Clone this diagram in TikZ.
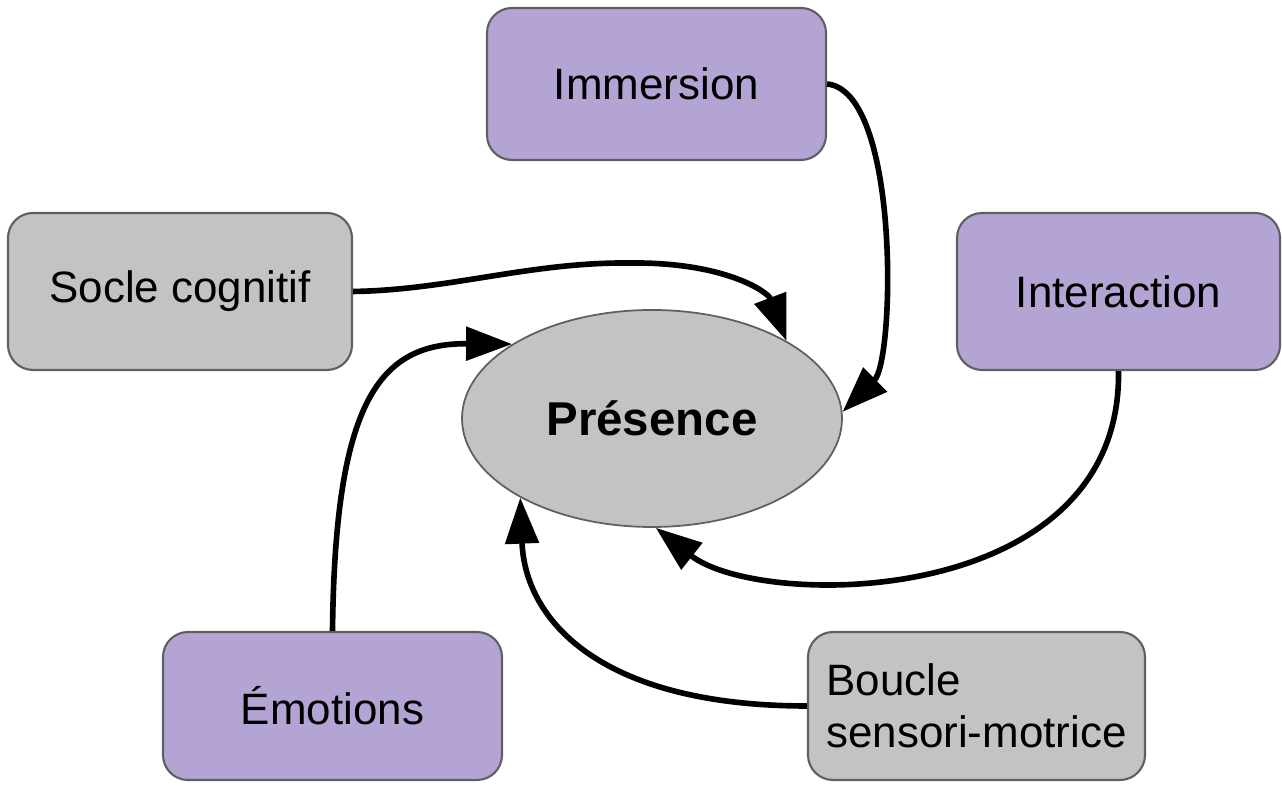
\documentclass[tikz,border=0pt]{standalone}
\usepackage{fontspec}
\setmainfont{Liberation Sans}
\usepackage{xcolor}
\usepackage{tikz}
\usetikzlibrary{arrows.meta, positioning, shapes.geometric}
\definecolor{boxgray}{RGB}{195,195,195}
\definecolor{boxpurple}{RGB}{180,164,212}
\definecolor{edgegray}{RGB}{95,95,95}

\begin{document}
\begin{tikzpicture}[
    box/.style={rectangle, rounded corners=0.25cm, draw=edgegray, line width=0.6pt, inner sep=0pt,
        font=\fontsize{12.5}{14.8}\selectfont},
    boxp/.style={box, fill=boxpurple},
    boxg/.style={box, fill=boxgray},
    pres/.style={ellipse, draw=edgegray, line width=0.5pt, fill=boxgray, inner sep=0pt,
        minimum width=3.8cm, minimum height=2.17cm, font=\fontsize{13.5}{16}\selectfont\bfseries},
    arr/.style={line width=1.6pt, -{Triangle[length=4.6mm, width=3.3mm]}}]
    \useasboundingbox (0,0) rectangle (12.82,7.86);
    \node[pres] (P) at (6.52,3.675) {Présence};
    \node[boxp, minimum width=3.39cm, minimum height=1.52cm] (imm) at (6.565,7.02) {Immersion};
    \node[boxg, minimum width=3.44cm, minimum height=1.57cm] (soc) at (1.80,4.945) {Socle cognitif};
    \node[boxp, minimum width=3.23cm, minimum height=1.57cm] (inter) at (11.185,4.945) {Interaction};
    \node[boxp, minimum width=3.39cm, minimum height=1.48cm] (emo) at (3.325,0.80) {Émotions};
    \node[boxg, minimum width=3.37cm, minimum height=1.48cm, align=left] (bou) at (9.765,0.80) {Boucle\\sensori-motrice};
    % connectors into the ellipse
    \draw[arr] (imm.east) .. controls (9.0,6.95) and (8.95,4.26) .. (P.2);
    \draw[arr] (soc.east) .. controls (4.5,4.96) and (5.3,5.24) .. (6.3,5.23)
        .. controls (7.25,5.24) and (7.68,4.94) .. (P.30);
    \draw[arr] (inter.south) .. controls (11.22,1.76) and (7.6,1.76) .. (P.-88);
    \draw[arr] (emo.north) .. controls (3.35,3.86) and (3.8,4.43) .. (P.152);
    \draw[arr] (bou.west) .. controls (6.0,0.80) and (5.25,1.66) .. (P.211);
\end{tikzpicture}
\end{document}
